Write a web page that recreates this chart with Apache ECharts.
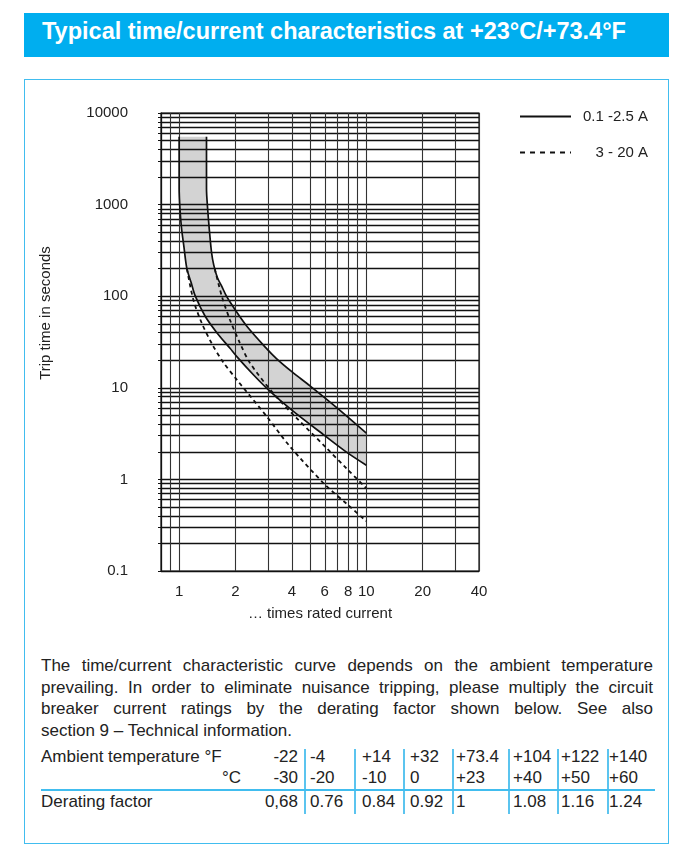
<!DOCTYPE html>
<html>
<head>
<meta charset="utf-8">
<title>Typical time/current characteristics</title>
<script src="https://cdn.jsdelivr.net/npm/echarts@6/dist/echarts.min.js"></script>
<style>
  body { margin: 0; width: 686px; height: 858px; position: relative; overflow: hidden; background: #fff;
         font-family: 'Liberation Sans', Arial, Helvetica, sans-serif; color: #222; }
  .head { position: absolute; left: 24px; top: 13px; width: 645px; height: 44px; background: #00aeef;
          color: #fff; font-weight: bold; font-size: 23.5px; line-height: 37px; padding-left: 18px; box-sizing: border-box;
          white-space: nowrap; }
  .box { position: absolute; left: 24px; top: 79px; width: 645px; height: 765px; border: 1.5px solid #41bdef; box-sizing: border-box; }
  #chart { position: absolute; left: 0; top: 0; width: 686px; height: 640px; }
  .note { position: absolute; left: 41px; top: 655px; width: 612px; font-size: 17px; line-height: 21.7px; }
  .note div { text-align: justify; text-align-last: justify; white-space: nowrap; }
  .note div.last { text-align: left; text-align-last: left; }
  .cell { position: absolute; font-size: 17px; line-height: 21.7px; white-space: nowrap; }
  .vsep { position: absolute; width: 1.5px; top: 749px; height: 65px; background: #5bc4ef; }
  .hsep { position: absolute; left: 41px; width: 614px; top: 789px; height: 2px; background: #41bdef; }
</style>
</head>
<body>
<div class="head">Typical time/current characteristics at +23°C/+73.4°F</div>
<div class="box"></div>
<div id="chart"></div>
<div class="note">
  <div style="white-space: normal">The time/current characteristic curve depends on the ambient temperature</div>
  <div style="white-space: normal">prevailing. In order to eliminate nuisance tripping, please multiply the circuit</div>
  <div style="white-space: normal">breaker current ratings by the derating factor shown below. See also</div>
  <div class="last">section 9 – Technical information.</div>
</div>
<div id="table"></div>
<script>
// 坐标轴刻度
var xTickValues = [0.8, 0.9, 1, 2, 3, 4, 5, 6, 7, 8, 9, 10, 20, 30, 40];
var xLabelValues = [1, 2, 4, 6, 8, 10, 20, 40];
var yLabelValues = [0.1, 1, 10, 100, 1000, 10000];
var yMinor = [1, 2, 3, 4, 5, 6, 7, 8, 9];

// 0.1 - 2.5 A 曲线带 (下/左边界 和 上/右边界)
var bandLowX = [1.0, 1.0, 1.01, 1.03, 1.06, 1.1, 1.16, 1.22, 1.38, 1.59, 1.87, 2.05, 2.5, 3.0, 4.0, 6.0, 7.8, 10];
var bandLowY = [5500, 1500, 900, 550, 350, 200, 140, 100, 60, 40, 27, 21.5, 13.8, 9.5, 5.7, 3.0, 2.0, 1.43];
var bandHighX = [1.4, 1.4, 1.42, 1.45, 1.49, 1.53, 1.6, 1.69, 1.79, 1.94, 2.3, 2.9, 3.3, 4.0, 5.0, 7.0, 10];
var bandHighY = [5500, 1500, 900, 530, 300, 220, 160, 128, 100, 77, 47, 27.5, 21, 15, 10.5, 6.0, 3.2];

// 3 - 20 A 虚线
var dashLowX = [1.1, 1.19, 1.32, 1.5, 1.72, 2.03, 2.93, 3.9, 6.0, 7.95, 10];
var dashLowY = [200, 92, 51, 30, 19, 12.3, 4.9, 2.3, 0.88, 0.53, 0.35];
var dashHighX = [1.55, 1.69, 1.87, 2.11, 2.39, 3.17, 4.23, 6.0, 7.95, 10];
var dashHighY = [200, 100, 55, 31, 18.7, 8.8, 4.7, 2.3, 1.28, 0.8];

// 降额表
var tempF = ['-22', '-4', '+14', '+32', '+73.4', '+104', '+122', '+140'];
var tempC = ['-30', '-20', '-10', '0', '+23', '+40', '+50', '+60'];
var derating = ['0,68', '0.76', '0.84', '0.92', '1', '1.08', '1.16', '1.24'];

// 网格线（对数纸的 1..9 细分）
var yTickValues = [];
yLabelValues.slice(0, -1).forEach(function (d) {
  yMinor.forEach(function (m) { yTickValues.push(+(d * m).toPrecision(3)); });
});
yTickValues.push(yLabelValues[yLabelValues.length - 1]);

function pairs(xs, ys) {
  return xs.map(function (x, i) { return [x, ys[i]]; });
}
function fmt(v) {
  return String(+Number(v).toPrecision(4));
}

(function () {
  var myChart = echarts.init(document.getElementById('chart'));
  var textColor = '#222';
  var ink = '#111';
  option = {
    animation: false,
    grid: {
      left: 161, top: 113, right: 207, bottom: 69,
      show: true, borderColor: ink, borderWidth: 1.2, backgroundColor: 'transparent'
    },
    legend: {
      orient: 'vertical',
      left: 519,
      top: 109,
      padding: 0,
      itemWidth: 51,
      itemHeight: 14,
      itemGap: 21,
      selectedMode: false,
      // 只要线，不要图例上的圆点
      itemStyle: { opacity: 0 },
      data: [
        { name: '0.1 -2.5 A' },
        { name: '3 - 20 A', lineStyle: { type: [5, 5] } }
      ],
      formatter: function (name) { return '{r|' + name + '}'; },
      textStyle: {
        fontSize: 15, color: textColor,
        rich: { r: { width: 72, align: 'right', fontSize: 15, color: textColor } }
      }
    },
    xAxis: {
      type: 'log',
      min: 0.8,
      max: 40,
      name: '… times rated current',
      nameLocation: 'middle',
      nameGap: 35,
      nameTextStyle: { fontSize: 15, color: textColor },
      axisLine: { show: true, lineStyle: { color: ink, width: 1.2 } },
      axisTick: { show: false, customValues: xTickValues },
      axisLabel: { customValues: xLabelValues, margin: 13, fontSize: 15, color: textColor, formatter: fmt },
      splitLine: { show: true, lineStyle: { color: '#333', width: 1.1 } },
      minorTick: { show: false },
      minorSplitLine: { show: false }
    },
    yAxis: {
      type: 'log',
      min: 0.1,
      max: 10000,
      name: 'Trip time in seconds',
      nameLocation: 'middle',
      nameRotate: 90,
      nameGap: 108,
      nameTextStyle: { fontSize: 15, color: textColor, padding: [0, 0, 0, 58] },
      axisLine: { show: true, lineStyle: { color: ink, width: 1.2 } },
      axisTick: { show: true, length: 3, customValues: yTickValues, lineStyle: { color: ink } },
      axisLabel: { customValues: yLabelValues, margin: 33, fontSize: 15, color: textColor, formatter: fmt },
      splitLine: { show: true, lineStyle: { color: ink, width: 1.3 } },
      minorTick: { show: false },
      minorSplitLine: { show: false }
    },
    series: [
      {
        name: '0.1 -2.5 A',
        type: 'line',
        data: pairs(bandLowX, bandLowY),
        symbol: 'none',
        smooth: 0.3,
        itemStyle: { color: ink },
        lineStyle: { color: ink, width: 1.7 },
        z: 3
      },
      {
        name: '0.1 -2.5 A',
        type: 'line',
        data: pairs(bandHighX, bandHighY),
        symbol: 'none',
        smooth: 0.3,
        itemStyle: { color: ink },
        lineStyle: { color: ink, width: 1.7 },
        z: 3
      },
      {
        name: '3 - 20 A',
        type: 'line',
        data: pairs(dashLowX, dashLowY),
        symbol: 'none',
        smooth: 0.3,
        itemStyle: { color: ink },
        lineStyle: { color: ink, width: 1.8, type: [4, 3.5] },
        z: 3
      },
      {
        name: '3 - 20 A',
        type: 'line',
        data: pairs(dashHighX, dashHighY),
        symbol: 'none',
        smooth: 0.3,
        itemStyle: { color: ink },
        lineStyle: { color: ink, width: 1.8, type: [4, 3.5] },
        z: 3
      },
      {
        // 灰色填充带
        name: 'band',
        type: 'custom',
        z: -1,
        data: [[bandLowX[0], bandLowY[0]]],
        renderItem: function (params, api) {
          var pts = [];
          for (var i = 0; i < bandLowX.length; i++) {
            pts.push(api.coord([bandLowX[i], bandLowY[i]]));
          }
          for (var j = bandHighX.length - 1; j >= 0; j--) {
            pts.push(api.coord([bandHighX[j], bandHighY[j]]));
          }
          return { type: 'polygon', shape: { points: pts }, style: { fill: '#d3d3d3' } };
        }
      }
    ]
  };
  myChart.setOption(option);
})();

// 降额表格
(function () {
  var table = document.getElementById('table');
  var sepX = [304, 354, 403, 452, 508, 557, 607];
  var pad = [6, 8, 7, 4, 5, 4, 2];
  var rows = [
    { top: 746, label: 'Ambient temperature °F', vals: tempF },
    { top: 767, label: '°C', vals: tempC, labelRight: 241 },
    { top: 791, label: 'Derating factor', vals: derating }
  ];
  function add(cls, text, style) {
    var d = document.createElement('div');
    d.className = cls;
    if (text != null) d.textContent = text;
    for (var k in style) d.style[k] = style[k];
    table.appendChild(d);
  }
  rows.forEach(function (r) {
    if (r.labelRight) {
      add('cell', r.label, { top: r.top + 'px', right: (686 - r.labelRight) + 'px' });
    } else {
      add('cell', r.label, { top: r.top + 'px', left: '41px' });
    }
    // 第一列右对齐
    add('cell', r.vals[0], { top: r.top + 'px', right: (686 - 298) + 'px' });
    for (var i = 1; i < r.vals.length; i++) {
      add('cell', r.vals[i], { top: r.top + 'px', left: (sepX[i - 1] + pad[i - 1]) + 'px' });
    }
  });
  sepX.forEach(function (x) {
    add('vsep', null, { left: x + 'px' });
  });
  add('hsep', null, {});
})();
</script>
</body>
</html>
